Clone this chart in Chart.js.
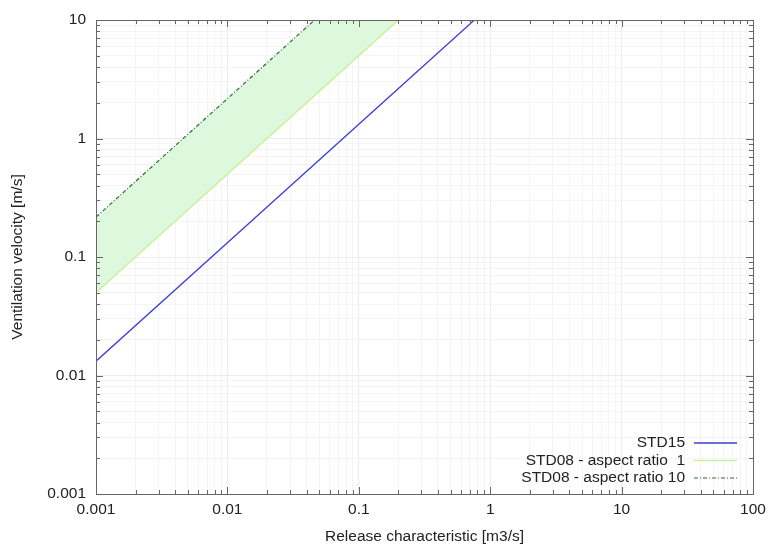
<!DOCTYPE html>
<html>
<head>
<meta charset="utf-8">
<script src="https://cdn.jsdelivr.net/npm/chart.js@4"></script>
<style>
  html, body { margin: 0; padding: 0; background: #fff; }
</style>
</head>
<body>
<canvas id="chart" width="769" height="545"></canvas>
<script>
// Release characteristic [m3/s] sample points (lines are straight on log-log)
const releaseQ = [0.001, 0.01, 0.1, 1];

// Ventilation velocity [m/s] for each curve at releaseQ
const std15 = [0.0132, 0.132, 1.32, 13.2];
const std08Aspect1 = [0.05, 0.5, 5, 50];
const std08Aspect10 = [0.217, 2.17, 21.7, 217];

const seriesLabels = ['STD15', 'STD08 - aspect ratio  1', 'STD08 - aspect ratio 10'];

// Major tick values and their labels
const xTickValues = [0.001, 0.01, 0.1, 1, 10, 100];
const xTickLabels = ['0.001', '0.01', '0.1', '1', '10', '100'];
const yTickValues = [0.001, 0.01, 0.1, 1, 10];
const yTickLabels = ['0.001', '0.01', '0.1', '1', '10'];

const FONT = "'Liberation Sans', Arial, sans-serif";
const FONT_SIZE = 15.5;

function toPoints(ys) {
    return releaseQ.map((q, i) => ({ x: q, y: ys[i] }));
}

// majors plus 2..9 minors in each decade
function buildLogTicks(majors) {
    const ticks = [];
    majors.forEach((v, i) => {
        ticks.push({ value: v, major: true });
        if (i < majors.length - 1) {
            for (let m = 2; m <= 9; m++) ticks.push({ value: v * m, major: false });
        }
    });
    return ticks;
}

function labelFor(values, labels, value) {
    const idx = values.findIndex(v => Math.abs(Math.log10(v) - Math.log10(value)) < 1e-6);
    return idx >= 0 ? labels[idx] : '';
}

// gnuplot style frame: box round the plot with inward tick marks on all four sides
const framePlugin = {
    id: 'frame',
    afterDatasetsDraw(chart) {
        const { ctx, chartArea: a, scales } = chart;
        ctx.save();
        ctx.strokeStyle = '#666';
        ctx.lineWidth = 1;
        ctx.beginPath();
        scales.x.ticks.forEach(t => {
            const px = Math.round(scales.x.getPixelForValue(t.value)) + 0.5;
            const len = t.major ? 7 : 4;
            ctx.moveTo(px, a.bottom); ctx.lineTo(px, a.bottom - len);
            ctx.moveTo(px, a.top); ctx.lineTo(px, a.top + len);
        });
        scales.y.ticks.forEach(t => {
            const py = Math.round(scales.y.getPixelForValue(t.value)) + 0.5;
            const len = t.major ? 7 : 4;
            ctx.moveTo(a.left, py); ctx.lineTo(a.left + len, py);
            ctx.moveTo(a.right, py); ctx.lineTo(a.right - len, py);
        });
        ctx.stroke();
        ctx.strokeRect(Math.round(a.left) + 0.5, Math.round(a.top) + 0.5,
            Math.round(a.right - a.left), Math.round(a.bottom - a.top));
        ctx.restore();
    }
};

// legend inside the plot, bottom right, text then line sample
const insideLegendPlugin = {
    id: 'insideLegend',
    afterDraw(chart) {
        const { ctx, chartArea: a } = chart;
        const rowGap = 17.5;
        const n = chart.data.datasets.length;
        ctx.save();
        ctx.font = FONT_SIZE + 'px ' + FONT;
        ctx.textAlign = 'right';
        ctx.textBaseline = 'middle';
        chart.data.datasets.forEach((ds, i) => {
            const y = a.bottom - 16 - (n - 1 - i) * rowGap;
            ctx.fillStyle = '#222';
            ctx.fillText(ds.label, a.right - 68, y);
            ctx.strokeStyle = ds.borderColor;
            ctx.lineWidth = ds.borderWidth;
            ctx.setLineDash(ds.borderDash || []);
            ctx.beginPath();
            ctx.moveTo(a.right - 59, y);
            ctx.lineTo(a.right - 16, y);
            ctx.stroke();
            ctx.setLineDash([]);
        });
        ctx.restore();
    }
};

new Chart(document.getElementById('chart'), {
    type: 'line',
    data: {
        datasets: [
            {
                label: seriesLabels[0],
                data: toPoints(std15),
                borderColor: '#3c3cd8',
                borderWidth: 1.3,
                pointRadius: 0,
                fill: false
            },
            {
                label: seriesLabels[1],
                data: toPoints(std08Aspect1),
                borderColor: '#cdf29c',
                borderWidth: 1.5,
                pointRadius: 0,
                fill: false
            },
            {
                label: seriesLabels[2],
                data: toPoints(std08Aspect10),
                borderColor: '#2e6b2e',
                borderWidth: 1.2,
                borderDash: [4, 2, 1, 2],
                pointRadius: 0,
                fill: '-1',
                backgroundColor: '#ddf8dd'
            }
        ]
    },
    options: {
        responsive: false,
        animation: false,
        layout: { padding: { top: 20, right: 16, left: 0, bottom: 0 } },
        plugins: {
            legend: { display: false },
            tooltip: { enabled: false }
        },
        scales: {
            x: {
                type: 'logarithmic',
                min: 0.001,
                max: 100,
                afterBuildTicks: scale => { scale.ticks = buildLogTicks(xTickValues); },
                afterFit: scale => {
                    scale.height = 51;
                    // let the layout padding alone decide the right edge
                    scale.paddingRight = 0;
                    scale.paddingLeft = 0;
                },
                ticks: {
                    autoSkip: false,
                    maxRotation: 0,
                    padding: 6,
                    color: '#222',
                    font: { family: FONT, size: FONT_SIZE },
                    callback: v => labelFor(xTickValues, xTickLabels, v)
                },
                grid: {
                    drawTicks: false,
                    color: ctx => (ctx.tick && ctx.tick.major) ? '#ececec' : '#f4f4f4'
                },
                border: { color: '#666' },
                title: {
                    display: true,
                    text: 'Release characteristic [m3/s]',
                    color: '#222',
                    font: { family: FONT, size: FONT_SIZE },
                    padding: { top: 0, bottom: -1 }
                }
            },
            y: {
                type: 'logarithmic',
                min: 0.001,
                max: 10,
                afterBuildTicks: scale => { scale.ticks = buildLogTicks(yTickValues); },
                afterFit: scale => {
                    scale.width = 96;
                    scale.paddingTop = 0;
                    scale.paddingBottom = 0;
                },
                ticks: {
                    autoSkip: false,
                    padding: 10,
                    color: '#222',
                    font: { family: FONT, size: FONT_SIZE },
                    callback: v => labelFor(yTickValues, yTickLabels, v)
                },
                grid: {
                    drawTicks: false,
                    color: ctx => (ctx.tick && ctx.tick.major) ? '#ececec' : '#f4f4f4'
                },
                border: { color: '#666' },
                title: {
                    display: true,
                    text: 'Ventilation velocity [m/s]',
                    color: '#222',
                    font: { family: FONT, size: FONT_SIZE },
                    padding: { top: 8, bottom: 0 }
                }
            }
        }
    },
    plugins: [framePlugin, insideLegendPlugin]
});
</script>
</body>
</html>
